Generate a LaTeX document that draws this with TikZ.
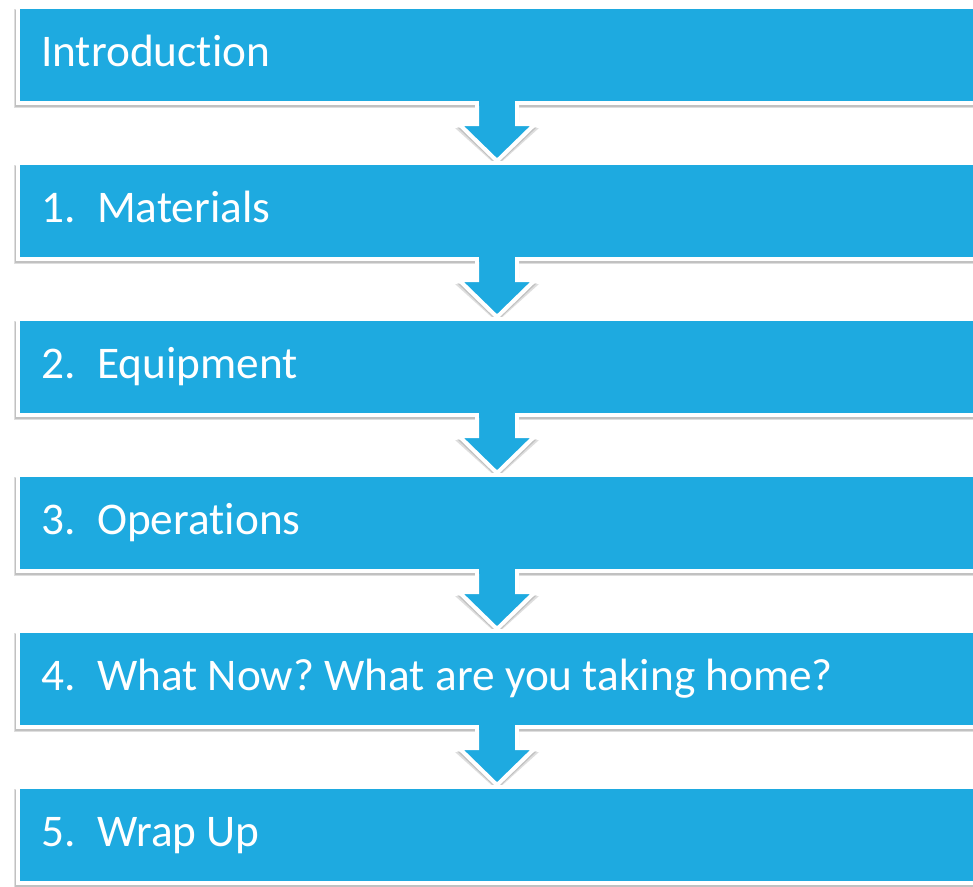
\documentclass[tikz,border=0pt]{standalone}
\usepackage{fontspec}
\setmainfont[Ligatures=NoCommon]{Carlito}
\definecolor{stepblue}{RGB}{30,170,224}
\tikzset{
  x=1pt, y=-1pt,
  stepbox/.style={fill=stepblue, draw=white, line width=4pt},
  steparrow/.style={fill=stepblue, draw=white, line width=4pt, line join=miter},
  stepshadow/.style={fill=black, opacity=0.13},
  steptext/.style={anchor=base west, text=white, font=\fontsize{45.3}{48}\selectfont, inner sep=0pt},
}
\begin{document}
\frenchspacing
\begin{tikzpicture}
\useasboundingbox (0,0) rectangle (973,886);
\clip (0,0) rectangle (973,886);
\fill[white] (0,0) rectangle (973,886);
\foreach \i in {0,...,5} {
  \pgfmathsetmacro{\t}{7+156*\i}
  \pgfmathsetmacro{\b}{103+156*\i}
  % box shadow
  \fill[stepshadow] (14,\t+2) rectangle (1000,\b+5);
  \fill[stepshadow] (15,\t+3) rectangle (1000,\b+4);
  \path[stepbox] (18,\t) rectangle (1000,\b);
  \coordinate (box\i) at (18,\t);
  \ifnum\i<5
    \pgfmathsetmacro{\s}{124+156*\i}
    \pgfmathsetmacro{\tip}{161+156*\i}
    \fill[stepshadow] (475,\b+2) -- (475,\s+4) -- (455,\s+4) -- (497,\tip+5) -- (539,\s+4) -- (519,\s+4) -- (519,\b+2) -- cycle;
    \fill[stepshadow] (476,\b+2) -- (476,\s+3) -- (457,\s+3) -- (497,\tip+4) -- (537,\s+3) -- (518,\s+3) -- (518,\b+2) -- cycle;
    \path[steparrow] (477,\b) -- (477,\s) -- (459,\s) -- (497,\tip) -- (535,\s) -- (517,\s) -- (517,\b);
    \fill[stepblue] (479,\b-4) rectangle (515,\b+3);
  \fi
}
% texts
\node[steptext] (t0) at (41,66) {Introduction};
\node[steptext] (n1) at (41,222) {1.};
\node[steptext] (t1) at (97,222) {Materials};
\node[steptext] (n2) at (41,378) {2.};
\node[steptext] (t2) at (97,378) {Equipment};
\node[steptext] (n3) at (41,534) {3.};
\node[steptext] (t3) at (97,534) {Operations};
\node[steptext] (n4) at (41,690) {4.};
\node[steptext] (t4) at (97,690) {What Now? What are you taking home?};
\node[steptext] (n5) at (41,846) {5.};
\node[steptext] (t5) at (97,846) {Wrap Up};
\end{tikzpicture}
\end{document}
